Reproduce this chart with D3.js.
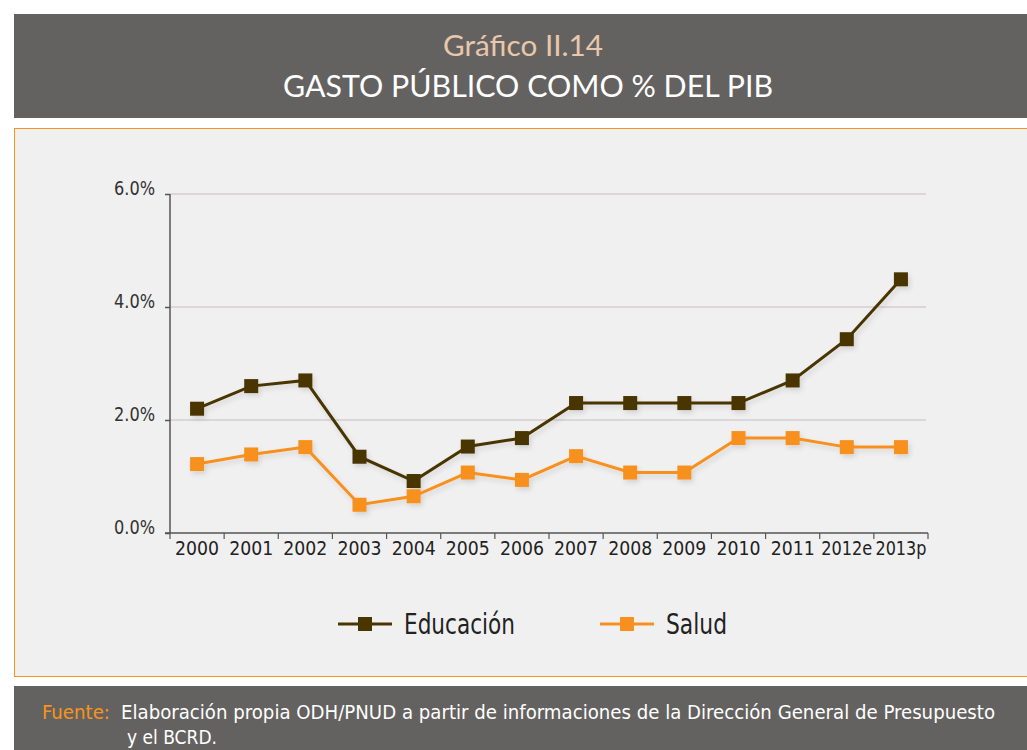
<!DOCTYPE html>
<meta charset="utf-8">
<script src="https://d3js.org/d3.v7.min.js"></script>
<style>
  body { margin: 0; background: #fff; }
  .narrow { font-family: "Liberation Sans Narrow", "DejaVu Sans Condensed", "Roboto", sans-serif; }
</style>
<div id="my_dataviz"></div>
<script>
// data
var years = ["2000","2001","2002","2003","2004","2005","2006","2007","2008","2009","2010","2011","2012e","2013p"];
var educacion = [2.2, 2.6, 2.7, 1.35, 0.92, 1.53, 1.68, 2.3, 2.3, 2.3, 2.3, 2.7, 3.43, 4.49];
var salud = [1.22, 1.39, 1.52, 0.5, 0.65, 1.07, 0.94, 1.36, 1.07, 1.07, 1.68, 1.68, 1.52, 1.52];
var yTicks = [0, 2, 4, 6];
var seriesNames = ["Educación", "Salud"];
var colors = ["#4a3500", "#f7901e"];

var W = 1027, H = 750;
var svg = d3.select("#my_dataviz")
  .append("svg")
    .attr("width", W)
    .attr("height", H);

// title band
svg.append("rect").attr("x", 14).attr("y", 14).attr("width", W - 14).attr("height", 104).attr("fill", "#646260");
svg.append("text")
  .attr("x", 523).attr("y", 56)
  .attr("text-anchor", "middle")
  .attr("font-family", "Lato, sans-serif")
  .attr("font-size", 29)
  .attr("fill", "#e9c7ab")
  .attr("textLength", 160).attr("lengthAdjust", "spacingAndGlyphs")
  .text("Gráfico II.14");
svg.append("text")
  .attr("x", 528).attr("y", 97)
  .attr("text-anchor", "middle")
  .attr("font-family", "Lato, sans-serif")
  .attr("font-size", 31)
  .attr("fill", "#ffffff")
  .attr("textLength", 490).attr("lengthAdjust", "spacingAndGlyphs")
  .text("GASTO PÚBLICO COMO % DEL PIB");

// chart panel
svg.append("rect").attr("x", 14.5).attr("y", 128.5).attr("width", W).attr("height", 548)
  .attr("fill", "#f0f0f0").attr("stroke", "#f7941d").attr("stroke-width", 1);

var margin = {left: 170, top: 194, right: 928, bottom: 533};

var x = d3.scaleBand().domain(years).range([margin.left, margin.right]);
var y = d3.scaleLinear().domain([0, 6]).range([margin.bottom, margin.top]);

// gridlines
svg.append("g").selectAll("line").data(yTicks.filter(function(d) { return d > 0; })).enter()
  .append("line")
    .attr("x1", margin.left).attr("x2", 926)
    .attr("y1", function(d) { return y(d); }).attr("y2", function(d) { return y(d); })
    .attr("stroke", "#d9cdd1").attr("stroke-width", 1.5);

// y axis
var yAxis = svg.append("g")
  .attr("class", "narrow")
  .attr("transform", "translate(" + margin.left + ",0)")
  .call(d3.axisLeft(y).tickValues(yTicks).tickSize(5).tickPadding(10).tickFormat(function(d) { return d.toFixed(1) + "%"; }));
yAxis.selectAll("text").attr("font-size", 20).attr("fill", "#333").attr("font-family", null).attr("dy", "0").attr("y", 0)
  .attr("textLength", 41).attr("lengthAdjust", "spacingAndGlyphs");
yAxis.selectAll("line, path").attr("stroke", "#555").attr("stroke-width", 1.5);
yAxis.select(".domain").attr("d", "M0," + y(6) + "V" + y(0));

// x axis
var xAxis = svg.append("g")
  .attr("class", "narrow")
  .attr("transform", "translate(0," + margin.bottom + ")")
  .call(d3.axisBottom(x).tickSize(0).tickPadding(9));
xAxis.selectAll("text").attr("font-size", 19).attr("fill", "#222").attr("font-family", null)
  .attr("textLength", function(d) { return d.length > 4 ? 51 : 44; }).attr("lengthAdjust", "spacingAndGlyphs");
xAxis.select(".domain").attr("d", "M" + (margin.left - 5) + ",0H" + margin.right).attr("stroke", "#555").attr("stroke-width", 1.5);
xAxis.append("g").selectAll("line").data(years.concat(["end"])).enter()
  .append("line")
    .attr("x1", function(d, i) { return margin.left + i * x.bandwidth(); })
    .attr("x2", function(d, i) { return margin.left + i * x.bandwidth(); })
    .attr("y1", 0).attr("y2", 6)
    .attr("stroke", "#555").attr("stroke-width", 1.2);

// shadow
var defs = svg.append("defs");
var f = defs.append("filter").attr("id", "shadow").attr("x", "-10%").attr("y", "-10%").attr("width", "120%").attr("height", "130%");
f.append("feDropShadow").attr("dx", 2).attr("dy", 3).attr("stdDeviation", 2.5).attr("flood-color", "#000").attr("flood-opacity", 0.12);

var line = d3.line()
  .x(function(d, i) { return x(years[i]) + x.bandwidth() / 2; })
  .y(function(d) { return y(d); });

[educacion, salud].forEach(function(vals, k) {
  var g = svg.append("g").attr("filter", "url(#shadow)");
  g.append("path")
    .datum(vals)
    .attr("d", line)
    .attr("fill", "none")
    .attr("stroke", colors[k])
    .attr("stroke-width", 3);
  g.selectAll("rect").data(vals).enter()
    .append("rect")
      .attr("x", function(d, i) { return x(years[i]) + x.bandwidth() / 2 - 7; })
      .attr("y", function(d) { return y(d) - 7; })
      .attr("width", 14).attr("height", 14)
      .attr("fill", colors[k]);
});

// legend
var legendX = [338, 600];
var legendW = [111, 61];
seriesNames.forEach(function(name, k) {
  var lg = svg.append("g").attr("transform", "translate(" + legendX[k] + ",624)");
  lg.append("line").attr("x1", 0).attr("x2", 54).attr("y1", 0).attr("y2", 0)
    .attr("stroke", colors[k]).attr("stroke-width", 3);
  lg.append("rect").attr("x", 20).attr("y", -7).attr("width", 14).attr("height", 14).attr("fill", colors[k]);
  lg.append("text").attr("class", "narrow").attr("x", 66).attr("y", 10)
    .attr("font-size", 28).attr("fill", "#222")
    .attr("textLength", legendW[k]).attr("lengthAdjust", "spacingAndGlyphs")
    .text(name);
});

// footer
svg.append("rect").attr("x", 14).attr("y", 686).attr("width", W - 14).attr("height", 64).attr("fill", "#646260");
svg.append("text").attr("class", "narrow").attr("x", 42).attr("y", 719)
  .attr("font-size", 20).attr("fill", "#f7941d")
  .attr("textLength", 68).attr("lengthAdjust", "spacingAndGlyphs")
  .text("Fuente:");
svg.append("text").attr("class", "narrow").attr("x", 121).attr("y", 719)
  .attr("font-size", 20).attr("fill", "#fff")
  .attr("textLength", 874).attr("lengthAdjust", "spacingAndGlyphs")
  .text("Elaboración propia ODH/PNUD a partir de informaciones de la Dirección General de Presupuesto");
svg.append("text").attr("class", "narrow").attr("x", 127).attr("y", 744)
  .attr("font-size", 20).attr("fill", "#fff")
  .attr("textLength", 90).attr("lengthAdjust", "spacingAndGlyphs")
  .text("y el BCRD.");
</script>
